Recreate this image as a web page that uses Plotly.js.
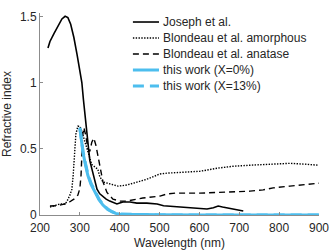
<!DOCTYPE html>
<html>
<head>
<meta charset="utf-8">
<script src="https://cdn.plot.ly/plotly-3.0.1.min.js"></script>
<style>html,body{margin:0;padding:0;background:#fff;}#chart{width:330px;height:252px;}</style>
</head>
<body>
<div id="chart"></div>
<script>
// Joseph et al.
var josephX = [220,225,235,245,255,263,270,277,285,293,300,305,309,313,317,321,325,330,336,343,350,358,366,375,385,393,400,408,426,443,468,494,510,551,590,619,635,647,658,669,690,710];
var josephY = [1.26,1.31,1.37,1.43,1.48,1.50,1.49,1.44,1.34,1.21,1.08,1.00,0.87,0.74,0.62,0.50,0.41,0.35,0.27,0.195,0.16,0.14,0.12,0.105,0.09,0.083,0.09,0.098,0.098,0.09,0.09,0.083,0.07,0.06,0.055,0.045,0.055,0.068,0.06,0.053,0.04,0.03];

// Blondeau et al. amorphous
var amorphX = [225,250,263,268,275,280,283,288,290,295,300,305,310,320,330,345,350,358,376,396,418,443,468,501,519,559,601,644,684,727,785,827,870,897];
var amorphY = [0.06,0.083,0.083,0.105,0.15,0.195,0.29,0.50,0.61,0.67,0.67,0.63,0.58,0.47,0.38,0.346,0.29,0.25,0.233,0.218,0.226,0.248,0.27,0.31,0.316,0.323,0.33,0.353,0.368,0.376,0.383,0.39,0.383,0.376];

// Blondeau et al. anatase
var anataseX = [225,240,255,265,275,285,295,300,303,305,307,310,315,320,325,330,335,340,345,350,358,368,383,400,418,458,501,520,540,601,684,727,760,785,827,870,900];
var anataseY = [0.068,0.07,0.078,0.085,0.10,0.12,0.15,0.2,0.3,0.45,0.6,0.66,0.6,0.5,0.48,0.55,0.58,0.53,0.45,0.37,0.25,0.17,0.12,0.105,0.105,0.128,0.143,0.16,0.165,0.165,0.173,0.18,0.19,0.205,0.218,0.233,0.24];

// this work (X=0%)
var work0X = [300,303,308,314,320,328,338,348,358,370,381,390,400,450,500,600,700,800,900];
var work0Y = [0.655,0.58,0.47,0.38,0.30,0.23,0.17,0.115,0.075,0.042,0.023,0.012,0.006,0.002,0.001,0,0,0,0];

// this work (X=13%)
var work13X = [300,303,308,314,320,328,338,348,358,370,381,390,400,450,500,600,700,800,900];
var work13Y = [0.66,0.59,0.48,0.39,0.31,0.24,0.175,0.12,0.08,0.045,0.025,0.013,0.007,0.002,0,0,0,0,0];

var seriesNames = ['Joseph et al.', 'Blondeau et al. amorphous', 'Blondeau et al. anatase', 'this work (X=0%)', 'this work (X=13%)'];
var xTicks = [200,300,400,500,600,700,800,900];
var yTicks = [0,0.5,1,1.5];
var yTickText = ['0','0.5','1','1.5'];

var blue = 'rgb(77,190,238)';
var styles = [
  {color: '#000', width: 1.6},
  {color: '#000', width: 1.4, dash: '1.4px,1.4px'},
  {color: '#000', width: 1.4, dash: '6px,4px'},
  {color: blue, width: 3},
  {color: blue, width: 3, dash: '11px,6px'}
];
var xs = [josephX, amorphX, anataseX, work0X, work13X];
var ys = [josephY, amorphY, anataseY, work0Y, work13Y];

var traces = xs.map(function (x, i) {
  return {x: x, y: ys[i], name: seriesNames[i], mode: 'lines', line: styles[i], showlegend: false};
});

// manual legend (paper coordinates) for MATLAB-like tight row spacing
var legX0 = 0.333, legX1 = 0.4265, legTextX = 0.432, legTop = 0.9554, legStep = 0.0792;
var shapes = [], annotations = [];
seriesNames.forEach(function (nm, i) {
  var yy = legTop - i * legStep;
  var st = styles[i];
  shapes.push({type: 'line', xref: 'paper', yref: 'paper', x0: legX0, x1: legX1, y0: yy, y1: yy,
               line: {color: st.color, width: st.width, dash: st.dash || 'solid'}});
  annotations.push({xref: 'paper', yref: 'paper', x: legTextX, y: yy, xanchor: 'left', yanchor: 'middle',
                    text: nm, showarrow: false, font: {size: 12, color: '#262626'}});
});

var axisCol = '#8c8c8c';
var txtCol = '#262626';
var layout = {
  width: 330, height: 252,
  margin: {l: 40, r: 11, t: 13, b: 37},
  paper_bgcolor: '#fff', plot_bgcolor: '#fff',
  font: {family: '"Liberation Sans", Arial, sans-serif', size: 12, color: txtCol},
  showlegend: false,
  shapes: shapes,
  annotations: annotations,
  xaxis: {range: [200, 900], tickvals: xTicks, showline: true, linecolor: axisCol, linewidth: 1,
          ticks: 'inside', ticklen: 3, tickcolor: axisCol, showgrid: false, zeroline: false,
          ticklabelstandoff: 2,
          tickfont: {size: 12, color: txtCol},
          title: {text: 'Wavelength (nm)', font: {size: 12, color: txtCol}, standoff: 4}},
  yaxis: {range: [0, 1.525], tickvals: yTicks, ticktext: yTickText, showline: true, linecolor: axisCol, linewidth: 1,
          ticks: 'inside', ticklen: 3, tickcolor: axisCol, showgrid: false, zeroline: false,
          tickfont: {size: 12, color: txtCol},
          title: {text: 'Refractive index', font: {size: 12, color: txtCol}, standoff: 6}}
};

Plotly.newPlot('chart', traces, layout, {staticPlot: true, displayModeBar: false});
</script>
</body>
</html>
